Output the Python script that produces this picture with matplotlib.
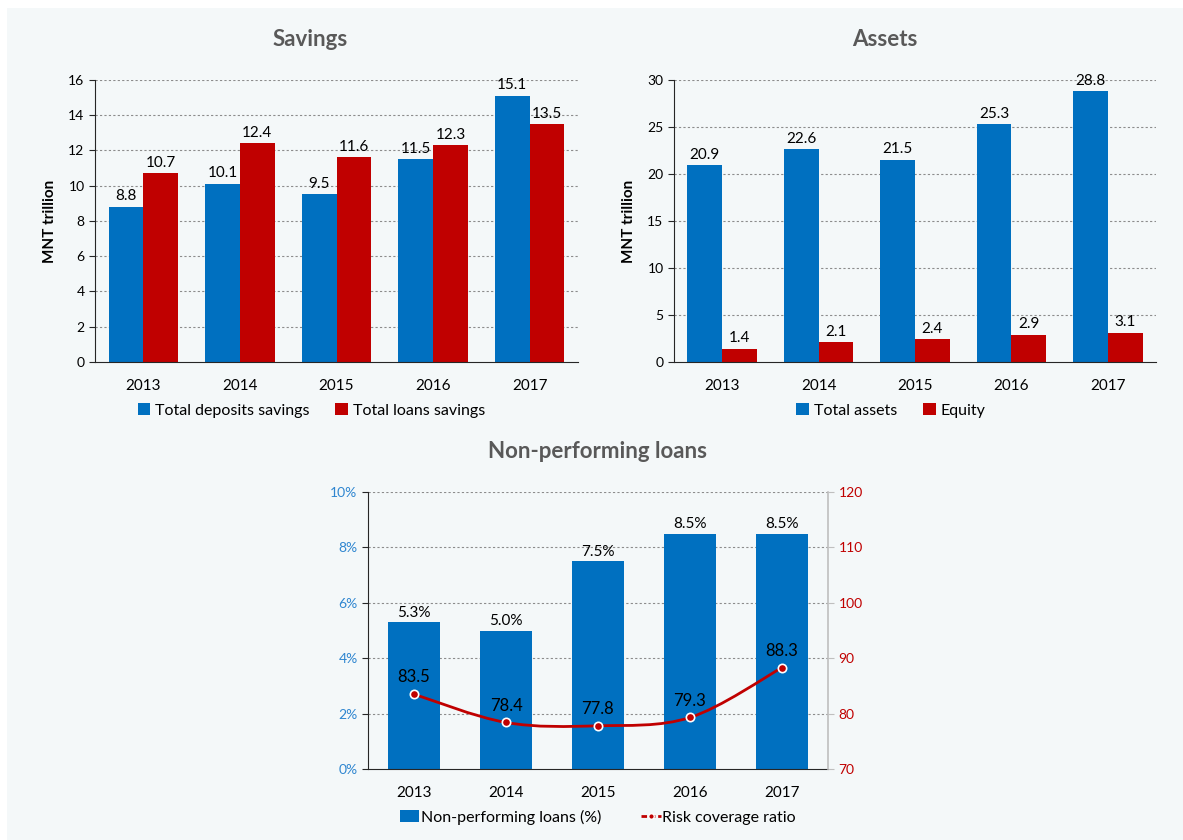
import matplotlib
matplotlib.use("Agg")
import matplotlib.pyplot as plt
import numpy as np
from matplotlib.patches import Rectangle, PathPatch
from matplotlib.path import Path
from matplotlib.lines import Line2D
from matplotlib.ticker import PercentFormatter

plt.rcParams["font.family"] = ["Lato", "DejaVu Sans"]

years = ["2013", "2014", "2015", "2016", "2017"]
deposits = [8.8, 10.1, 9.5, 11.5, 15.1]
loans = [10.7, 12.4, 11.6, 12.3, 13.5]
total_assets = [20.9, 22.6, 21.5, 25.3, 28.8]
equity = [1.4, 2.1, 2.4, 2.9, 3.1]
npl_pct = [5.3, 5.0, 7.5, 8.5, 8.5]
risk_cov = [83.5, 78.4, 77.8, 79.3, 88.3]

BLUE = "#0070C0"
RED = "#C00000"
BG = "#f4f8f9"
GREY_T = "#595959"

W, H = 1183, 840
fig = plt.figure(figsize=(W / 100, H / 100), dpi=100)
fig.patch.set_facecolor("white")
fig.add_artist(Rectangle((7 / W, 0), 1 - 7 / W, 1 - 8 / H,
                         transform=fig.transFigure, facecolor=BG, edgecolor="none", zorder=-10))


def style_ax(ax, ticks, color="black"):
    ax.set_facecolor("none")
    ax.set_xlim(-0.5, 4.5)
    ax.set_ylim(ticks[0], ticks[-1])
    ax.set_yticks(ticks)
    for t in ticks[1:]:
        ax.axhline(t, color="#8c8c8c", lw=0.8, ls=(0, (2, 2)), zorder=0)
    for s in ["top", "right"]:
        ax.spines[s].set_visible(False)
    ax.spines["left"].set_color("#262626")
    ax.spines["bottom"].set_color("#262626")
    ax.tick_params(axis="y", length=4, labelsize=10, labelcolor=color, color="#262626")
    ax.tick_params(axis="x", length=0, labelsize=11, pad=12)
    ax.set_xticks(range(len(years)))
    ax.set_xticklabels(years)


def title(txt, px, py):
    fig.text(px / W, 1 - py / H, txt, ha="center", va="center",
             fontsize=16, fontweight="bold", color=GREY_T)


def grouped(ax, a, b, la, lb, ticks, leg_x):
    x = np.arange(len(years))
    w = 0.36
    ax.bar(x - w / 2, a, w, color=BLUE, label=la, zorder=2)
    ax.bar(x + w / 2, b, w, color=RED, label=lb, zorder=2)
    style_ax(ax, ticks)
    off = (ticks[-1] - ticks[0]) * 0.012
    for i in x:
        ax.text(i - w / 2, a[i] + off, f"{a[i]:.1f}", ha="center", va="bottom", fontsize=11)
        ax.text(i + w / 2, b[i] + off, f"{b[i]:.1f}", ha="center", va="bottom", fontsize=11)
    ax.set_ylabel("MNT trillion", fontsize=11, fontweight="bold", labelpad=8)
    ax.legend(loc="upper center", bbox_to_anchor=(leg_x, -0.095), ncol=2, frameon=False,
              fontsize=11.5, handlelength=0.8, handleheight=0.8, handletextpad=0.3,
              columnspacing=1.6)


ax1 = fig.add_axes([95 / W, 0.569, 483 / W, 0.336])
grouped(ax1, deposits, loans, "Total deposits savings", "Total loans savings",
        [0, 2, 4, 6, 8, 10, 12, 14, 16], 0.448)
title("Savings", 310, 40)

ax2 = fig.add_axes([674 / W, 0.569, 482 / W, 0.336])
grouped(ax2, total_assets, equity, "Total assets", "Equity",
        [0, 5, 10, 15, 20, 25, 30], 0.45)
title("Assets", 885, 40)

# Non-performing loans
ax3 = fig.add_axes([368 / W, 0.0845, 460 / W, 0.3298])
x = np.arange(len(years))
ax3.bar(x, npl_pct, 0.57, color=BLUE, zorder=2, label="Non-performing loans (%)")
style_ax(ax3, [0, 2, 4, 6, 8, 10], color="#2f86d0")
ax3.yaxis.set_major_formatter(PercentFormatter(decimals=0))
for i in x:
    ax3.text(i, npl_pct[i] + 0.08, f"{npl_pct[i]:.1f}%", ha="center", va="bottom", fontsize=11)
title("Non-performing loans", 598, 452)

ax4 = ax3.twinx()
ax4.set_ylim(70, 120)
ax4.set_yticks([70, 80, 90, 100, 110, 120])
for s in ["top", "left", "bottom"]:
    ax4.spines[s].set_visible(False)
ax4.spines["right"].set_color("#bfbfbf")
ax4.spines["right"].set_linewidth(1.2)
ax4.tick_params(axis="y", length=4, color="#bfbfbf", labelcolor=RED, labelsize=10)

# smoothed line (Excel-style) through the points
pts = np.column_stack([x, risk_cov]).astype(float)
verts = [pts[0]]
codes = [Path.MOVETO]
for i in range(len(pts) - 1):
    p0 = pts[i - 1] if i > 0 else pts[i]
    p3 = pts[i + 2] if i + 2 < len(pts) else pts[i + 1]
    c1 = pts[i] + (pts[i + 1] - p0) / 6
    c2 = pts[i + 1] - (p3 - pts[i]) / 6
    verts += [c1, c2, pts[i + 1]]
    codes += [Path.CURVE4] * 3
ax4.add_patch(PathPatch(Path(verts, codes), facecolor="none", edgecolor=RED, lw=2, zorder=3))
ax4.plot(x, risk_cov, ls="none", marker="o", ms=6, mfc=RED, mec="white", mew=1.2, zorder=4)
for i in x:
    ax4.text(i, risk_cov[i] + 1.6, f"{risk_cov[i]:.1f}", ha="center", va="bottom", fontsize=12)

h1, l1 = ax3.get_legend_handles_labels()
line_h = Line2D([], [], color=RED, lw=2, ls=(0, (2, 1)), marker="o", ms=4, mfc=RED, mec="white")
ax3.legend(h1 + [line_h], l1 + ["Risk coverage ratio"], loc="upper center",
           bbox_to_anchor=(0.5, -0.095), ncol=2, frameon=False, fontsize=11.5,
           handlelength=1.2, handleheight=0.8, handletextpad=0.1, columnspacing=2.5)

fig.savefig("out.png", dpi=100, facecolor=fig.get_facecolor())
